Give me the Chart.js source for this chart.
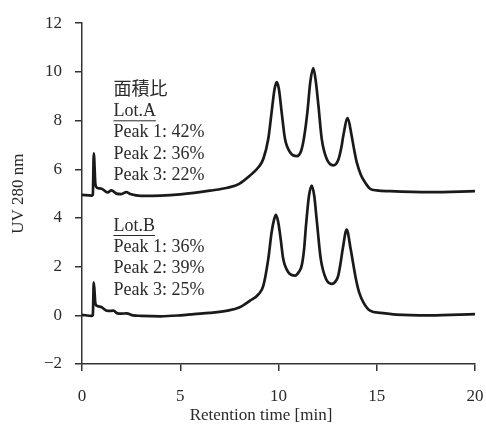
<!DOCTYPE html>
<html>
<head>
<meta charset="utf-8">
<script src="https://cdn.jsdelivr.net/npm/chart.js@4.4.0/dist/chart.umd.min.js"></script>
<style>
  body { margin: 0; background: #fff; }
  #wrap { width: 486px; height: 428px; }
</style>
</head>
<body>
<div id="wrap"><canvas id="hplcChart" width="486" height="428"></canvas></div>
<script>
// retention time [min] and UV 280 nm readings
const timeA = [0, 0.5, 0.55, 0.6, 0.68, 0.75, 1.0, 1.3, 1.5, 1.75, 2.0, 2.25, 2.5, 3.0, 4.0, 5.0, 5.7, 6.5, 7.4, 8.0,
    8.55, 9.0, 9.23, 9.48, 9.65, 9.8, 9.91, 10.02, 10.16, 10.33, 10.59, 10.93, 11.15, 11.3, 11.47, 11.62, 11.77,
    11.9, 12.03, 12.2, 12.45, 12.79, 13.05, 13.2, 13.3, 13.52, 13.72, 13.85, 13.98, 14.2, 14.4, 14.66, 15.0,
    15.67, 17.7, 20];
const uvA = [4.95, 4.92, 4.95, 6.65, 5.4, 5.25, 5.2, 5.05, 5.13, 5.0, 4.98, 5.06, 4.97, 4.91, 4.92, 4.97, 5.03, 5.12, 5.24, 5.4,
    5.74, 6.1, 6.43, 7.25, 8.35, 9.3, 9.58, 9.3, 8.35, 7.25, 6.7, 6.54, 6.75, 7.3, 8.35, 9.6, 10.16,
    9.6, 8.63, 7.25, 6.43, 6.16, 6.4, 6.9, 7.39, 8.1, 7.39, 6.8, 6.29, 5.75, 5.47, 5.2, 5.13,
    5.1, 5.06, 5.1];

const timeB = [0, 0.5, 0.55, 0.6, 0.68, 0.75, 1.0, 1.3, 1.6, 1.8, 2.0, 2.27, 2.6, 3.0, 4.0, 5.0, 5.7, 6.5, 7.4, 8.0,
    8.55, 9.0, 9.23, 9.48, 9.65, 9.78, 9.87, 9.98, 10.11, 10.24, 10.5, 10.84, 11.05, 11.18, 11.3, 11.4, 11.55, 11.69,
    11.82, 11.94, 12.15, 12.42, 12.71, 12.95, 13.04, 13.15, 13.27, 13.47, 13.67, 13.94, 14.1, 14.32, 14.66,
    15.2, 16.0, 17.7, 20];
const uvB = [0.02, -0.02, 0.0, 1.35, 0.5, 0.4, 0.33, 0.18, 0.19, 0.08, 0.07, 0.08, 0.0, -0.02, -0.04, 0.0, 0.05, 0.1, 0.19, 0.32,
    0.6, 0.88, 1.22, 2.32, 3.41, 3.95, 4.13, 3.85, 3.14, 2.32, 1.77, 1.63, 1.8, 2.04, 2.7, 3.69, 4.9, 5.33,
    4.9, 3.96, 2.32, 1.49, 1.29, 1.45, 1.63, 2.1, 2.73, 3.52, 2.73, 1.49, 0.95, 0.53, 0.19,
    0.1, 0.03, 0.0, 0.05];

const xTicks = [0, 5, 10, 15, 20];
const yTicks = [-2, 0, 2, 4, 6, 8, 10, 12];

// area ratio notes
const notesA = ["面積比", "Lot.A", "Peak 1: 42%", "Peak 2: 36%", "Peak 3: 22%"];
const notesB = ["Lot.B", "Peak 1: 36%", "Peak 2: 39%", "Peak 3: 25%"];
const xTitle = "Retention time [min]";

const serif = '"Liberation Serif", "DejaVu Serif", "Noto Sans CJK JP", serif';
const ink = "#1a1a1a";
const textInk = "#2a2a2a";

const toPoints = (xs, ys) => xs.map((x, i) => ({ x: x, y: ys[i] }));

const lineStyle = {
    borderColor: ink,
    backgroundColor: ink,
    borderWidth: 2.7,
    pointRadius: 0,
    fill: false,
    cubicInterpolationMode: "monotone"
};

const notesPlugin = {
    id: "notes",
    afterDraw(chart) {
        const ctx = chart.ctx;
        const x = chart.scales.x.getPixelForValue(1.6);
        const step = 21.3;
        ctx.save();
        ctx.fillStyle = textInk;
        ctx.strokeStyle = textInk;
        ctx.lineWidth = 1;
        ctx.font = "18px " + serif;
        ctx.textBaseline = "middle";
        ctx.textAlign = "left";
        const drawBlock = (lines, y0, underlineIdx) => {
            lines.forEach((t, i) => {
                const y = y0 + i * step;
                ctx.fillText(t, x, y);
                if (i === underlineIdx) {
                    const w = ctx.measureText(t).width;
                    ctx.beginPath();
                    ctx.moveTo(x, y + 9.5);
                    ctx.lineTo(x + w, y + 9.5);
                    ctx.stroke();
                }
            });
        };
        drawBlock(notesA, 90, 1);
        drawBlock(notesB, 226, 0);

        // x axis title sits a bit left of the plot centre in the original
        ctx.font = "17px " + serif;
        ctx.textAlign = "center";
        ctx.fillText(xTitle, 261, 416);
        ctx.restore();
    }
};

new Chart(document.getElementById("hplcChart"), {
    type: "line",
    data: {
        datasets: [
            Object.assign({ label: "Lot.A", data: toPoints(timeA, uvA) }, lineStyle),
            Object.assign({ label: "Lot.B", data: toPoints(timeB, uvB) }, lineStyle)
        ]
    },
    options: {
        responsive: false,
        animation: false,
        layout: { padding: { top: 23, right: 11, left: 0, bottom: 0 } },
        plugins: {
            legend: { display: false },
            tooltip: { enabled: false }
        },
        scales: {
            x: {
                type: "linear",
                min: 0, max: 20,
                afterBuildTicks: s => { s.ticks = xTicks.map(v => ({ value: v })); },
                afterFit: s => { s.height = 64; s.paddingLeft = 0; s.paddingRight = 0; },
                border: { display: true, color: "#333", width: 1.5 },
                grid: { drawOnChartArea: false, drawTicks: true, tickLength: 7, color: "#333", lineWidth: 1.5 },
                ticks: { color: textInk, font: { family: serif, size: 17 }, padding: 15, maxRotation: 0 },
                title: { display: false }
            },
            y: {
                min: -2, max: 12,
                afterBuildTicks: s => { s.ticks = yTicks.map(v => ({ value: v })); },
                afterFit: s => { s.width = 82; },
                border: { display: true, color: "#333", width: 1.5 },
                grid: { drawOnChartArea: false, drawTicks: true, tickLength: 7, color: "#333", lineWidth: 1.5 },
                ticks: { color: textInk, font: { family: serif, size: 17 }, padding: 13,
                    callback: v => v < 0 ? "\u2212" + Math.abs(v) : v },
                title: { display: true, text: "UV 280 nm", color: textInk,
                    font: { family: serif, size: 17 }, padding: { top: 8, bottom: 0 } }
            }
        }
    },
    plugins: [notesPlugin]
});
</script>
</body>
</html>
